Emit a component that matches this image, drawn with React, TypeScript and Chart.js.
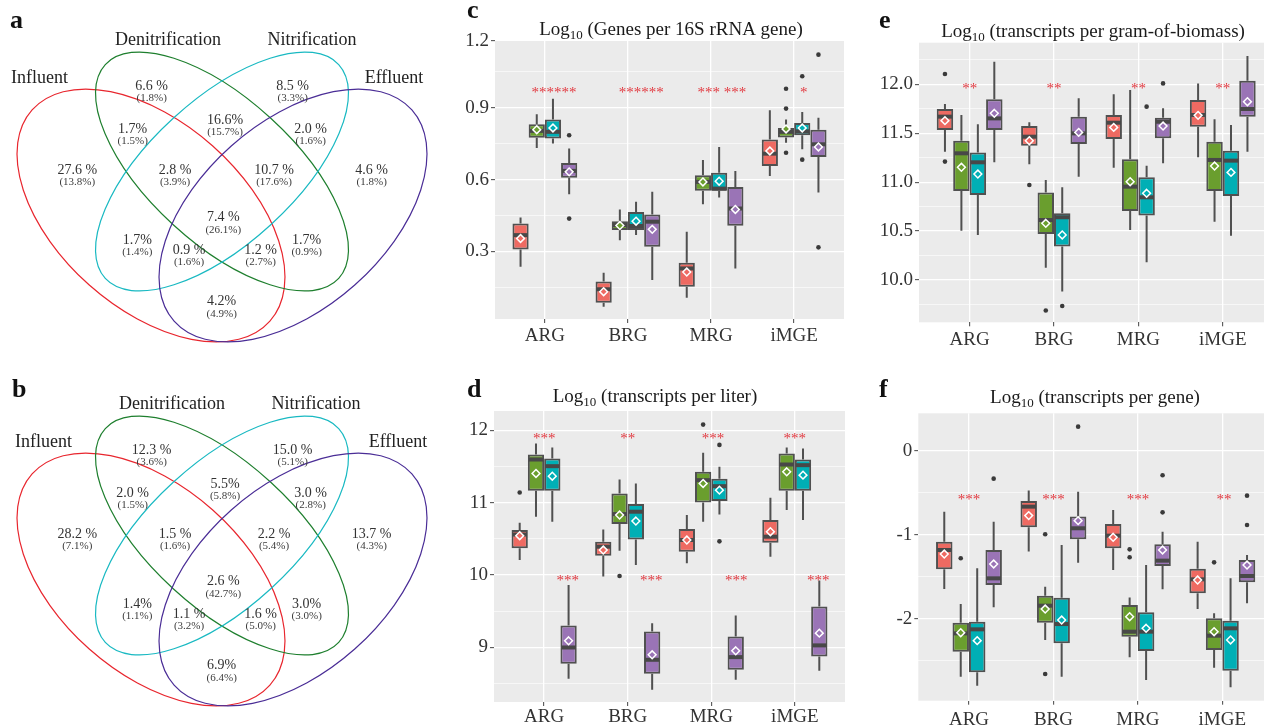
import React, { useEffect, useRef } from 'react';
import { Chart, registerables } from 'chart.js';

Chart.register(...registerables);

const FONT = "'Liberation Serif', 'Times New Roman', Times, serif";

// ---------------- data ----------------
const CATEGORIES = ['ARG', 'BRG', 'MRG', 'iMGE'];
const GROUPS = ['Influent', 'Denitrification', 'Nitrification', 'Effluent'];

// Venn (a): region percentages, same region order for both diagrams
const VENN_A_PCT = ['6.6 %', '8.5 %', '1.7%', '16.6%', '2.0 %', '27.6 %', '2.8 %', '10.7 %', '4.6 %', '7.4 %', '1.7%', '0.9 %', '1.2 %', '1.7%', '4.2%'];
const VENN_A_SUB = ['(1.8%)', '(3.3%)', '(1.5%)', '(15.7%)', '(1.6%)', '(13.8%)', '(3.9%)', '(17.6%)', '(1.8%)', '(26.1%)', '(1.4%)', '(1.6%)', '(2.7%)', '(0.9%)', '(4.9%)'];
// Venn (b)
const VENN_B_PCT = ['12.3 %', '15.0 %', '2.0 %', '5.5%', '3.0 %', '28.2 %', '1.5 %', '2.2 %', '13.7 %', '2.6 %', '1.4%', '1.1 %', '1.6 %', '3.0%', '6.9%'];
const VENN_B_SUB = ['(3.6%)', '(5.1%)', '(1.5%)', '(5.8%)', '(2.8%)', '(7.1%)', '(1.6%)', '(5.4%)', '(4.3%)', '(42.7%)', '(1.1%)', '(3.2%)', '(5.0%)', '(3.0%)', '(6.4%)'];

// Box stats per category: [min, q1, median, q3, max, mean]
// Panel c: Log10 (Genes per 16S rRNA gene)
const C_INFLUENT = [
  [0.236, 0.308, 0.368, 0.417, 0.442, 0.354],
  [0.069, 0.086, 0.142, 0.174, 0.211, 0.132],
  [0.107, 0.153, 0.229, 0.253, 0.382, 0.214],
  [0.615, 0.656, 0.708, 0.767, 0.889, 0.719],
];
const C_DENITRIFICATION = [
  [0.732, 0.774, 0.803, 0.831, 0.872, 0.808],
  [0.347, 0.389, 0.41, 0.426, 0.475, 0.408],
  [0.497, 0.553, 0.59, 0.618, 0.681, 0.59],
  [0.753, 0.775, 0.799, 0.815, 0.85, 0.811],
];
const C_NITRIFICATION = [
  [0.75, 0.771, 0.799, 0.85, 0.937, 0.815],
  [0.368, 0.389, 0.406, 0.464, 0.507, 0.426],
  [0.525, 0.553, 0.562, 0.628, 0.736, 0.593],
  [0.726, 0.785, 0.801, 0.836, 0.882, 0.815],
];
const C_EFFLUENT = [
  [0.539, 0.607, 0.636, 0.669, 0.729, 0.632],
  [0.181, 0.319, 0.424, 0.454, 0.549, 0.392],
  [0.229, 0.407, 0.479, 0.569, 0.636, 0.475],
  [0.546, 0.694, 0.747, 0.808, 0.858, 0.736],
];
// [category, group, value]
const C_OUTLIERS = [
  [0, 3, 0.785], [0, 3, 0.437],
  [3, 1, 0.979], [3, 1, 0.896], [3, 1, 0.712],
  [3, 2, 1.031], [3, 2, 0.683],
  [3, 3, 1.121], [3, 3, 0.317],
];
// [category, shift, value, text]
const C_STARS = [
  [0, 0.11, 0.979, '******'],
  [1, 0.16, 0.979, '******'],
  [2, 0.13, 0.979, '*** ***'],
  [3, 0.117, 0.979, '*'],
];

// Panel d: Log10 (transcripts per liter)
const D_INFLUENT = [
  [10.209, 10.369, 10.56, 10.622, 10.723, 10.544],
  [9.979, 10.268, 10.392, 10.461, 10.631, 10.346],
  [10.163, 10.323, 10.484, 10.636, 10.829, 10.484],
  [10.254, 10.447, 10.53, 10.76, 11.067, 10.599],
];
const D_DENITRIFICATION = [
  [10.806, 11.164, 11.596, 11.665, 11.816, 11.403],
  [10.337, 10.705, 10.842, 11.127, 11.32, 10.829],
  [10.737, 11.003, 11.311, 11.426, 11.688, 11.265],
  [10.898, 11.164, 11.527, 11.678, 11.761, 11.426],
];
const D_NITRIFICATION = [
  [10.737, 11.164, 11.504, 11.61, 11.761, 11.366],
  [10.14, 10.493, 10.875, 10.98, 11.265, 10.746],
  [10.838, 11.022, 11.228, 11.329, 11.495, 11.173],
  [10.76, 11.164, 11.518, 11.596, 11.747, 11.38],
];
const D_EFFLUENT = [
  [8.569, 8.775, 9.0, 9.304, 9.864, 9.092],
  [8.417, 8.638, 8.83, 9.221, 9.336, 8.899],
  [8.555, 8.693, 8.867, 9.152, 9.441, 8.954],
  [8.679, 8.876, 9.029, 9.566, 9.924, 9.198],
];
const D_OUTLIERS = [
  [0, 0, 11.141], [1, 1, 9.988], [2, 1, 12.078], [2, 2, 11.798], [2, 2, 10.466],
];
const D_STARS = [
  [0, 0, 11.93, '***'], [0, 0.281, 9.97, '***'],
  [1, 0, 11.93, '**'], [1, 0.281, 9.97, '***'],
  [2, 0.02, 11.93, '***'], [2, 0.3, 9.97, '***'],
  [3, 0, 11.93, '***'], [3, 0.281, 9.97, '***'],
];

// Panel e: Log10 (transcripts per gram-of-biomass)
const E_INFLUENT = [
  [11.312, 11.533, 11.67, 11.748, 11.799, 11.629],
  [11.182, 11.373, 11.465, 11.574, 11.612, 11.424],
  [11.148, 11.441, 11.608, 11.687, 11.898, 11.56],
  [11.254, 11.567, 11.687, 11.84, 12.01, 11.683],
];
const E_DENITRIFICATION = [
  [10.504, 10.91, 11.295, 11.424, 11.687, 11.152],
  [10.126, 10.47, 10.613, 10.893, 11.022, 10.579],
  [10.511, 10.705, 10.954, 11.233, 11.942, 11.005],
  [10.596, 10.91, 11.227, 11.414, 11.642, 11.165],
];
const E_NITRIFICATION = [
  [10.46, 10.869, 11.203, 11.302, 11.591, 11.083],
  [9.881, 10.341, 10.641, 10.681, 10.947, 10.46],
  [10.181, 10.658, 10.845, 11.049, 11.169, 10.886],
  [10.453, 10.859, 11.22, 11.322, 11.584, 11.1],
];
const E_EFFLUENT = [
  [11.203, 11.533, 11.652, 11.847, 12.232, 11.704],
  [11.056, 11.39, 11.499, 11.67, 11.857, 11.509],
  [11.193, 11.448, 11.618, 11.659, 11.755, 11.574],
  [11.312, 11.67, 11.748, 12.037, 12.29, 11.823],
];
const E_OUTLIERS = [
  [0, 0, 12.106], [0, 0, 11.21], [1, 0, 10.971], [1, 1, 9.687], [1, 2, 9.734], [2, 2, 11.772], [2, 3, 12.01],
];
const E_STARS = [
  [0, 0, 11.99, '**'], [1, 0, 11.99, '**'], [2, 0, 11.99, '**'], [3, 0, 11.99, '**'],
];

// Panel f: Log10 (transcripts per gene)
const F_INFLUENT = [
  [-1.646, -1.412, -1.181, -1.082, -0.724, -1.229],
  [-1.2, -0.911, -0.664, -0.596, -0.473, -0.771],
  [-1.42, -1.161, -1.01, -0.871, -0.704, -1.03],
  [-1.885, -1.698, -1.531, -1.404, -1.082, -1.539],
];
const F_DENITRIFICATION = [
  [-2.692, -2.394, -2.175, -2.048, -1.825, -2.167],
  [-2.254, -2.048, -1.845, -1.726, -1.618, -1.885],
  [-2.461, -2.215, -2.155, -1.837, -1.746, -1.976],
  [-2.584, -2.374, -2.203, -1.996, -1.936, -2.155],
];
const F_NITRIFICATION = [
  [-2.799, -2.64, -2.127, -2.036, -1.4, -2.262],
  [-2.692, -2.294, -2.064, -1.75, -1.121, -2.016],
  [-2.732, -2.386, -2.155, -1.924, -1.36, -2.115],
  [-2.819, -2.62, -2.115, -2.024, -1.519, -2.254],
];
const F_EFFLUENT = [
  [-1.865, -1.598, -1.519, -1.181, -0.843, -1.348],
  [-1.332, -1.054, -0.922, -0.783, -0.485, -0.831],
  [-1.65, -1.372, -1.308, -1.113, -0.962, -1.181],
  [-1.817, -1.567, -1.491, -1.3, -1.241, -1.36],
];
const F_OUTLIERS = [
  [0, 1, -1.28], [0, 3, -0.33],
  [1, 1, -0.994], [1, 1, -2.66], [1, 3, 0.29],
  [2, 1, -1.173], [2, 1, -1.268], [2, 3, -0.29], [2, 3, -0.732],
  [3, 1, -1.328], [3, 3, -0.533], [3, 3, -0.883],
];
const F_STARS = [
  [0, 0, -0.533, '***'], [1, 0, -0.533, '***'], [2, 0, -0.533, '***'], [3, 0.02, -0.533, '**'],
];

// ---------------- styles / layout ----------------
const BOX_COLORS = ['#EE6A62', '#6A9E2E', '#00AFB5', '#9A74B6'];
const BOX_LINE = '#505050';
const MEDIAN_LINE = '#484848';
const PANEL_BG = '#EBEBEB';
const STAR_COLOR = '#E2383F';

const VENN_ELLIPSES = [
  { cx: 151, cy: 215.5, a: 159, b: 93, rot: 41.6, color: '#E8262E' },
  { cx: 222, cy: 171.5, a: 158.3, b: 72.2, rot: 42.5, color: '#1E7F2E' },
  { cx: 222, cy: 171.5, a: 158.3, b: 72.2, rot: -42.5, color: '#19B9C2' },
  { cx: 293, cy: 215.5, a: 159, b: 93, rot: -41.6, color: '#4A2D96' },
];
const VENN_SET_POS = [[39.5, 78], [168, 40], [312, 40], [394, 78]];
const VENN_REGION_POS = [
  [151.7, 86], [292.7, 86], [132.7, 129.3], [225, 120], [310.7, 129.3],
  [77.3, 170], [175, 170], [274, 170], [371.7, 170], [223.3, 217.7],
  [137.3, 240], [189, 250], [260.7, 250], [306.7, 240], [221.7, 301.7],
];

const PANELS = [
  {
    key: 'c', letter: 'c', letterX: 27, letterY: 18,
    left: 440, top: 0, width: 410, height: 362,
    area: { l: 55, r: 404, t: 41, b: 319 },
    yMin: 0.018, yMax: 1.178, majors: [0.3, 0.6, 0.9], minors: [0.15, 0.45, 0.75, 1.05],
    extra: { value: 1.178, label: '1.2' }, fmt: (v: number) => v.toFixed(1), xPad: 2,
    title: ' (Genes per 16S rRNA gene)', titleX: 231, titleY: 35,
    stats: [C_INFLUENT, C_DENITRIFICATION, C_NITRIFICATION, C_EFFLUENT], outliers: C_OUTLIERS, stars: C_STARS,
  },
  {
    key: 'd', letter: 'd', letterX: 27, letterY: 33,
    left: 440, top: 364, width: 410, height: 362,
    area: { l: 54, r: 405, t: 47, b: 338 },
    yMin: 8.247, yMax: 12.266, majors: [9, 10, 11, 12], minors: [8.5, 9.5, 10.5, 11.5],
    extra: null, fmt: (v: number) => String(v), xPad: 0,
    title: ' (transcripts per liter)', titleX: 215, titleY: 38,
    stats: [D_INFLUENT, D_DENITRIFICATION, D_NITRIFICATION, D_EFFLUENT], outliers: D_OUTLIERS, stars: D_STARS,
  },
  {
    key: 'e', letter: 'e', letterX: 29, letterY: 28,
    left: 850, top: 0, width: 430, height: 362,
    area: { l: 69, r: 423.4, t: 42.7, b: 322.3 },
    yMin: 9.567, yMax: 12.426, majors: [10, 10.5, 11, 11.5, 12], minors: [9.75, 10.25, 10.75, 11.25, 11.75, 12.25],
    extra: null, fmt: (v: number) => v.toFixed(1), xPad: 2,
    title: ' (transcripts per gram-of-biomass)', titleX: 243, titleY: 37,
    stats: [E_INFLUENT, E_DENITRIFICATION, E_NITRIFICATION, E_EFFLUENT], outliers: E_OUTLIERS, stars: E_STARS,
  },
  {
    key: 'f', letter: 'f', letterX: 29, letterY: 33,
    left: 850, top: 364, width: 430, height: 362,
    area: { l: 68.3, r: 423, t: 49.3, b: 336.7 },
    yMin: -2.978, yMax: 0.449, majors: [-2, -1, 0], minors: [-2.5, -1.5, -0.5],
    extra: null, fmt: (v: number) => String(v), xPad: 4,
    title: ' (transcripts per gene)', titleX: 245, titleY: 39,
    stats: [F_INFLUENT, F_DENITRIFICATION, F_NITRIFICATION, F_EFFLUENT], outliers: F_OUTLIERS, stars: F_STARS,
  },
];

const near = (a: number, b: number) => Math.abs(a - b) < 1e-6;

function drawLetter(ctx: CanvasRenderingContext2D, letter: string, x: number, y: number) {
  ctx.save();
  ctx.font = `bold 26px ${FONT}`;
  ctx.fillStyle = '#111';
  ctx.textAlign = 'left';
  ctx.textBaseline = 'alphabetic';
  ctx.fillText(letter, x, y);
  ctx.restore();
}

function VennPanel({ top, pct, sub, letter, letterX, letterY, labelDx }: any) {
  const ref = useRef<HTMLCanvasElement>(null);
  useEffect(() => {
    const chart = new Chart(ref.current as HTMLCanvasElement, {
      type: 'scatter',
      data: { datasets: [] },
      options: {
        animation: false,
        responsive: false,
        layout: { padding: 0 },
        plugins: { legend: { display: false }, tooltip: { enabled: false } },
        scales: {
          x: { type: 'linear', min: 0, max: 440, display: false },
          y: { type: 'linear', min: 0, max: 362, reverse: true, display: false },
        },
      },
      plugins: [
        {
          id: 'venn',
          afterDraw(c: any) {
            const ctx = c.ctx as CanvasRenderingContext2D;
            const xs = c.scales.x;
            const ys = c.scales.y;
            ctx.save();
            VENN_ELLIPSES.forEach((e) => {
              const px = xs.getPixelForValue(e.cx);
              const py = ys.getPixelForValue(e.cy);
              const rx = Math.abs(xs.getPixelForValue(e.cx + e.a) - px);
              const ry = Math.abs(xs.getPixelForValue(e.cx + e.b) - px);
              ctx.beginPath();
              ctx.ellipse(px, py, rx, ry, (e.rot * Math.PI) / 180, 0, Math.PI * 2);
              ctx.strokeStyle = e.color;
              ctx.lineWidth = 1.2;
              ctx.stroke();
            });
            ctx.textAlign = 'center';
            ctx.textBaseline = 'middle';
            ctx.fillStyle = '#222';
            ctx.font = `18px ${FONT}`;
            GROUPS.forEach((g, i) => {
              const [x, y] = VENN_SET_POS[i];
              ctx.fillText(g, xs.getPixelForValue(x + labelDx), ys.getPixelForValue(y));
            });
            VENN_REGION_POS.forEach(([x, y], i) => {
              ctx.fillStyle = '#333';
              ctx.font = `14px ${FONT}`;
              ctx.fillText(pct[i], xs.getPixelForValue(x), ys.getPixelForValue(y));
              ctx.fillStyle = '#3c3c3c';
              ctx.font = `11px ${FONT}`;
              ctx.fillText(sub[i], xs.getPixelForValue(x), ys.getPixelForValue(y + 12));
            });
            ctx.restore();
            drawLetter(ctx, letter, letterX, letterY);
          },
        },
      ],
    } as any);
    return () => chart.destroy();
  }, []);
  return (
    <canvas
      ref={ref}
      width={440}
      height={362}
      style={{ position: 'absolute', left: 0, top, width: 440, height: 362 }}
    />
  );
}

function BoxPanel({ spec }: any) {
  const ref = useRef<HTMLCanvasElement>(null);
  useEffect(() => {
    const s = spec;
    const yTicks = [...s.minors, ...s.majors, ...(s.extra ? [s.extra.value] : [])].sort((a, b) => a - b);
    const isMajor = (v: number) => s.majors.some((m: number) => near(m, v)) || (s.extra && near(s.extra.value, v));
    const isExtra = (v: number) => !!s.extra && near(s.extra.value, v);
    const tickFont = { family: FONT, size: 19 };

    const chart = new Chart(ref.current as HTMLCanvasElement, {
      type: 'bar',
      data: {
        datasets: GROUPS.map((g, gi) => ({
          label: g,
          data: CATEGORIES.map((_, ci) => ({ x: ci + 1, y: [s.stats[gi][ci][1], s.stats[gi][ci][3]] })),
          backgroundColor: BOX_COLORS[gi],
          borderColor: BOX_LINE,
          borderWidth: 2,
          borderSkipped: false,
          categoryPercentage: 0.78,
          barPercentage: 1,
        })),
      },
      options: {
        animation: false,
        responsive: false,
        layout: { padding: { left: 0, top: s.area.t, right: s.width - s.area.r, bottom: 0 } },
        plugins: { legend: { display: false }, tooltip: { enabled: false }, title: { display: false } },
        scales: {
          x: {
            type: 'linear',
            min: 0.4,
            max: 4.6,
            offset: false,
            afterBuildTicks: (sc: any) => {
              sc.ticks = CATEGORIES.map((_, i) => ({ value: i + 1 }));
            },
            afterFit: (sc: any) => {
              sc.height = s.height - s.area.b;
            },
            ticks: {
              autoSkip: false,
              maxRotation: 0,
              padding: s.xPad,
              font: tickFont,
              color: '#333',
              callback: (v: any) => CATEGORIES[Math.round(v) - 1] ?? '',
            },
            grid: { offset: false, color: '#ffffff', lineWidth: 1.3, tickLength: 4, tickColor: '#444', tickWidth: 1 },
            border: { display: false },
          },
          y: {
            type: 'linear',
            min: s.yMin,
            max: s.yMax,
            afterBuildTicks: (sc: any) => {
              sc.ticks = yTicks.map((v) => ({ value: v }));
            },
            afterFit: (sc: any) => {
              sc.width = s.area.l;
            },
            ticks: {
              autoSkip: false,
              padding: 2,
              font: tickFont,
              color: '#333',
              callback: (v: any) => (isExtra(v) ? s.extra.label : isMajor(v) ? s.fmt(v) : ''),
            },
            grid: {
              color: (ctx: any) => (ctx.tick && isExtra(ctx.tick.value) ? 'rgba(0,0,0,0)' : '#ffffff'),
              lineWidth: (ctx: any) => (ctx.tick && isMajor(ctx.tick.value) ? 1.3 : 0.6),
              tickLength: 4,
              tickWidth: 1,
              tickColor: (ctx: any) => (ctx.tick && isMajor(ctx.tick.value) ? '#444' : 'rgba(0,0,0,0)'),
            },
            border: { display: false },
          },
        },
      },
      plugins: [
        {
          id: 'panelbg',
          beforeDraw(c: any) {
            const { ctx, chartArea: a } = c;
            ctx.save();
            ctx.fillStyle = PANEL_BG;
            ctx.fillRect(a.left, a.top, a.right - a.left, a.bottom - a.top);
            ctx.restore();
          },
        },
        {
          id: 'boxplot',
          afterDatasetsDraw(c: any) {
            const ctx = c.ctx as CanvasRenderingContext2D;
            const ys = c.scales.y;
            const xs = c.scales.x;
            ctx.save();
            GROUPS.forEach((_, gi) => {
              const meta = c.getDatasetMeta(gi);
              meta.data.forEach((bar: any, ci: number) => {
                const st = s.stats[gi][ci];
                const x = bar.x;
                const w = bar.width;
                ctx.strokeStyle = BOX_LINE;
                ctx.lineWidth = 2;
                ctx.lineCap = 'butt';
                ctx.beginPath();
                ctx.moveTo(x, ys.getPixelForValue(st[3]));
                ctx.lineTo(x, ys.getPixelForValue(st[4]));
                ctx.moveTo(x, ys.getPixelForValue(st[1]));
                ctx.lineTo(x, ys.getPixelForValue(st[0]));
                ctx.stroke();
                // median
                ctx.strokeStyle = MEDIAN_LINE;
                ctx.lineWidth = 4;
                ctx.beginPath();
                const my = ys.getPixelForValue(st[2]);
                ctx.moveTo(x - w / 2 + 1, my);
                ctx.lineTo(x + w / 2 - 1, my);
                ctx.stroke();
                // mean diamond
                const mny = ys.getPixelForValue(st[5]);
                const r = 3.9;
                ctx.beginPath();
                ctx.moveTo(x, mny - r);
                ctx.lineTo(x + r, mny);
                ctx.lineTo(x, mny + r);
                ctx.lineTo(x - r, mny);
                ctx.closePath();
                ctx.fillStyle = BOX_COLORS[gi];
                ctx.fill();
                ctx.strokeStyle = '#ffffff';
                ctx.lineWidth = 1.5;
                ctx.stroke();
              });
            });
            // outliers
            ctx.fillStyle = '#3a3a3a';
            s.outliers.forEach(([ci, gi, v]: number[]) => {
              const bar = c.getDatasetMeta(gi).data[ci];
              ctx.beginPath();
              ctx.arc(bar.x, ys.getPixelForValue(v), 2.3, 0, Math.PI * 2);
              ctx.fill();
            });
            // significance stars
            ctx.fillStyle = STAR_COLOR;
            ctx.font = `15px ${FONT}`;
            ctx.textAlign = 'center';
            ctx.textBaseline = 'middle';
            s.stars.forEach(([ci, dx, v, txt]: any[]) => {
              ctx.fillText(txt, xs.getPixelForValue(ci + 1 + dx), ys.getPixelForValue(v) + 4);
            });
            ctx.restore();
          },
          afterDraw(c: any) {
            const ctx = c.ctx as CanvasRenderingContext2D;
            ctx.save();
            ctx.fillStyle = '#1a1a1a';
            ctx.textBaseline = 'alphabetic';
            ctx.textAlign = 'left';
            const big = `19px ${FONT}`;
            const small = `13px ${FONT}`;
            ctx.font = big;
            const w1 = ctx.measureText('Log').width;
            const w3 = ctx.measureText(s.title).width;
            ctx.font = small;
            const w2 = ctx.measureText('10').width;
            let x = s.titleX - (w1 + w2 + w3) / 2;
            ctx.font = big;
            ctx.fillText('Log', x, s.titleY);
            x += w1;
            ctx.font = small;
            ctx.fillText('10', x, s.titleY + 4);
            x += w2;
            ctx.font = big;
            ctx.fillText(s.title, x, s.titleY);
            ctx.restore();
            drawLetter(ctx, s.letter, s.letterX, s.letterY);
          },
        },
      ],
    } as any);
    return () => chart.destroy();
  }, []);
  return (
    <canvas
      ref={ref}
      width={spec.width}
      height={spec.height}
      style={{ position: 'absolute', left: spec.left, top: spec.top, width: spec.width, height: spec.height }}
    />
  );
}

export default function App() {
  return (
    <div
      style={{
        position: 'absolute',
        left: 0,
        top: 0,
        width: 1264,
        height: 726,
        overflow: 'hidden',
        background: '#ffffff',
      }}
    >
      <VennPanel top={0} pct={VENN_A_PCT} sub={VENN_A_SUB} letter="a" letterX={10} letterY={28} labelDx={0} />
      <VennPanel top={364} pct={VENN_B_PCT} sub={VENN_B_SUB} letter="b" letterX={12} letterY={33} labelDx={4} />
      {PANELS.map((p) => (
        <BoxPanel key={p.key} spec={p} />
      ))}
    </div>
  );
}
